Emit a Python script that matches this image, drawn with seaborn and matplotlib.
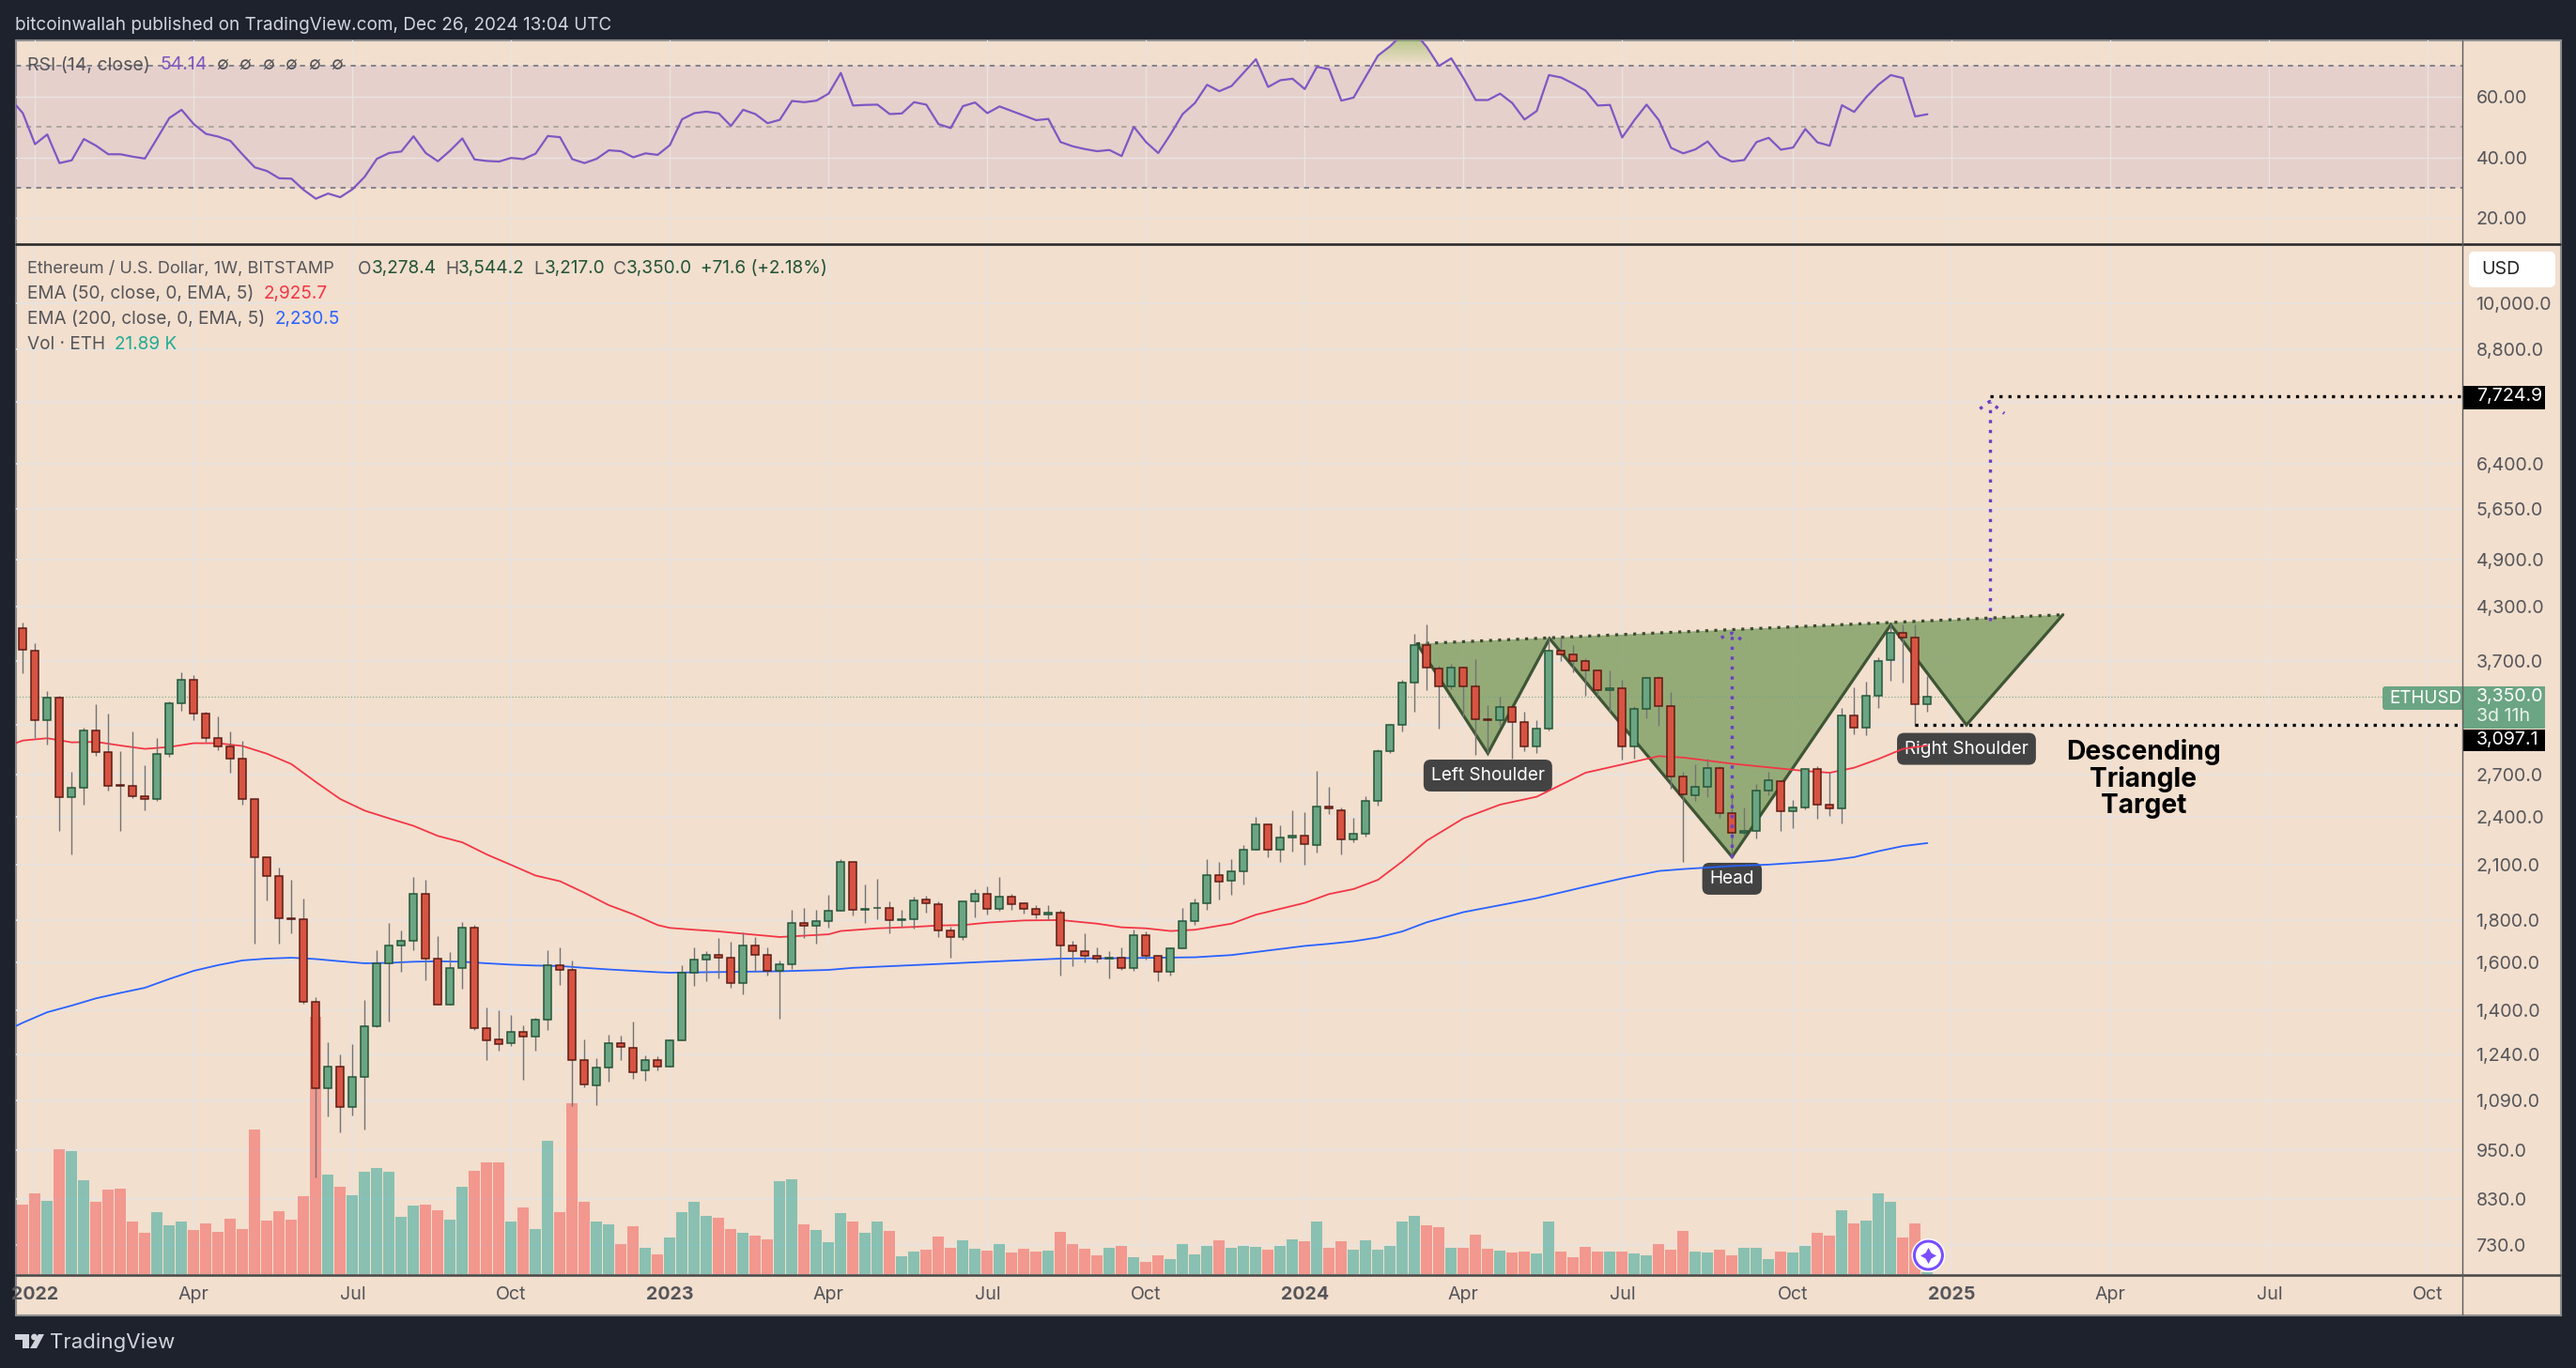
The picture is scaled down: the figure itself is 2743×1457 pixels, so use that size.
import numpy as np
import pandas as pd
import matplotlib
matplotlib.use("Agg")
import matplotlib.pyplot as plt
from matplotlib.patches import Rectangle, FancyBboxPatch, Circle, Polygon
from matplotlib.path import Path
import seaborn as sns

# ---------- data ----------
opens = [4049,3812,3142,3338,2537,2599,3047,2870,2622,2613,2543,2518,2855,3286,3510,3197,2985,2914,2818,2518,
 2142,2038,1809,1804,1436,1130,1198,1072,1166,1340,1598,1676,1698,1936,1617,1425,1578,1764,1335,1294,
 1278,1320,1304,1365,1589,1566,1219,1138,1194,1278,1262,1185,1219,1200,1288,1555,1613,1635,1622,1513,
 1680,1635,1562,1591,1785,1774,1794,1847,2114,1855,1862,1865,1801,1806,1907,1884,1751,1718,1895,1936,
 1857,1921,1886,1860,1828,1837,1680,1653,1632,1617,1620,1578,1729,1632,1558,1663,1794,1889,2042,2011,
 2061,2187,2347,2192,2263,2280,2218,2467,2446,2252,2287,2505,2877,3102,3482,3871,3626,3447,3636,3447,
 3150,3142,3253,3126,2920,3063,3812,3772,3698,3608,3410,3428,2920,3237,3526,3261,2681,2546,2606,2747,
 2422,2293,2310,2580,2646,2434,2465,2737,2479,2453,3178,3071,3355,3707,3998,3947,3278.4]
highs = [4117,3886,3405,3355,2718,3071,3282,3200,2880,3043,2771,2988,3308,3590,3555,3212,3174,3040,2966,2524,
 2144,2085,2014,1911,1453,1283,1240,1276,1441,1656,1787,1749,2030,2014,1723,1647,1790,1779,1412,1402,
 1383,1343,1371,1656,1669,1610,1292,1228,1309,1306,1358,1235,1232,1294,1589,1669,1652,1712,1696,1740,
 1718,1669,1608,1855,1862,1855,1931,2134,2116,1989,2019,1899,1851,1921,1929,1895,1770,1897,1960,1978,
 2030,1938,1890,1877,1877,1853,1698,1734,1670,1651,1670,1753,1747,1636,1670,1862,1911,2134,2118,2134,
 2218,2400,2352,2343,2441,2431,2729,2608,2460,2395,2540,2892,3110,3508,3993,4091,3655,3669,3641,3721,
 3274,3346,3265,3216,3138,3947,3947,3871,3725,3617,3608,3513,3265,3535,3544,3393,2718,2775,2818,2760,
 2570,2463,2626,2722,2653,2515,2750,2764,2715,3245,3441,3490,3740,4101,4095,4095,3544.2]
lows = [3576,2988,2930,2304,2164,2479,2840,2580,2304,2530,2446,2508,2833,3220,3142,2955,2885,2710,2485,1687,
 1901,1687,1736,1427,881,1044,998,1046,1007,1337,1359,1560,1657,1523,1425,1425,1490,1326,1220,1254,
 1268,1156,1254,1326,1503,1075,1132,1078,1149,1220,1159,1152,1185,1197,1288,1501,1519,1533,1494,1467,
 1560,1545,1370,1574,1714,1688,1762,1847,1825,1787,1806,1736,1770,1758,1839,1718,1623,1703,1816,1830,
 1849,1853,1835,1811,1802,1545,1583,1603,1599,1531,1568,1564,1612,1519,1545,1663,1776,1853,1906,1933,
 1988,2187,2145,2118,2178,2102,2170,2416,2164,2235,2270,2473,2862,3040,3212,3410,3063,3420,3174,2847,
 2862,3094,2818,2877,2862,3047,3702,3585,3363,3355,3216,2810,2822,3158,3086,2593,2115,2508,2534,2395,
 2147,2275,2258,2546,2308,2328,2447,2386,2407,2358,3016,3008,3249,3500,3486,3086,3217.0]
closes = [3821,3142,3338,2537,2599,3047,2873,2613,2618,2543,2518,2855,3286,3510,3197,2985,2914,2818,2518,2142,
 2038,1809,1804,1436,1130,1198,1072,1166,1340,1598,1676,1698,1936,1617,1425,1578,1764,1335,1290,1275,
 1320,1304,1365,1587,1566,1219,1141,1194,1278,1265,1181,1219,1200,1288,1556,1613,1635,1622,1513,1680,
 1635,1562,1591,1785,1774,1794,1847,2114,1855,1860,1865,1801,1806,1903,1889,1751,1718,1895,1936,1857,
 1923,1884,1860,1828,1837,1680,1653,1632,1617,1620,1578,1729,1632,1558,1663,1794,1889,2042,2006,2061,
 2192,2347,2192,2263,2275,2224,2467,2453,2252,2287,2505,2877,3102,3482,3871,3631,3447,3636,3447,3150,
 3142,3253,3126,2920,3063,3812,3772,3698,3608,3410,3428,2920,3237,3526,3261,2681,2553,2606,2747,2422,
 2293,2310,2580,2653,2434,2465,2737,2479,2453,3178,3071,3355,3697,3998,3947,3278,3350.0]
volume_k = [750,880,790,1350,1330,1015,780,920,930,575,445,675,525,575,475,545,455,605,485,1565,
 585,685,595,840,2785,1075,950,850,1105,1155,1105,625,740,750,695,595,950,1115,1215,1215,
 575,720,485,1450,675,1850,780,575,535,330,515,280,210,400,675,780,635,615,485,445,
 420,380,1005,1025,535,475,350,665,565,445,575,465,190,240,260,410,280,370,270,250,
 330,230,270,240,250,455,330,270,200,290,310,180,135,200,160,330,210,310,370,280,
 310,300,260,310,380,360,565,290,360,260,370,260,310,575,635,525,505,290,290,430,
 270,250,230,240,220,565,240,180,300,240,240,240,220,200,330,260,465,240,230,260,
 200,280,290,160,240,230,310,445,420,695,545,585,880,780,400,545,21.89]
week_index = list(range(157))

ema_weeks = [-1,0,2,4,6,8,10,12,14,16,18,20,22,24,26,28,30,32,34,36,38,40,42,44,46,48,50,52,53,55,57,59,62,66,67,70,73,75,77,79,82,85,88,90,92,94,96,99,101,103,105,107,109,111,113,115,118,121,124,128,131,134,136,140,143,146,148,150,152,154,156]
ema50 = [2930,2966,2985,2951,2955,2925,2898,2913,2944,2944,2921,2859,2778,2643,2521,2441,2389,2340,2275,2235,2161,2099,2038,2006,1943,1877,1830,1776,1762,1753,1745,1734,1718,1731,1747,1760,1767,1774,1776,1788,1799,1801,1783,1765,1760,1747,1753,1783,1828,1858,1889,1936,1963,2014,2120,2246,2389,2482,2537,2712,2775,2840,2829,2781,2753,2725,2712,2750,2818,2898,2925.7]
ema200_weeks = [-1,0,2,4,6,8,10,12,14,16,18,20,22,24,26,28,30,32,34,36,38,40,42,44,46,48,50,52,53,59,62,66,68,73,79,85,90,96,99,105,107,109,111,113,115,118,121,124,128,131,134,136,140,143,146,148,150,152,154,156]
ema200 = [1332,1354,1394,1420,1449,1471,1492,1529,1564,1589,1610,1618,1622,1616,1606,1597,1599,1604,1606,1604,1597,1591,1587,1585,1577,1570,1564,1558,1556,1560,1562,1568,1577,1589,1604,1618,1620,1624,1634,1676,1686,1698,1716,1745,1790,1841,1877,1914,1976,2022,2064,2075,2093,2101,2115,2126,2145,2181,2212,2230.5]
rsi_weeks = list(range(-1,157))
rsi = [59.1,54.5,44.3,47.5,38.1,39.0,46.0,43.8,41,41,40.2,39.6,46.2,52.9,55.6,50.9,47.7,46.8,45.4,40.9,
 36.7,35.5,33.1,33,29.3,26.4,28.1,26.9,29.5,33.6,39.5,41.4,41.9,46.9,41.4,38.7,42.2,46.2,39.3,38.8,
 38.6,39.8,39.4,41.2,47,46.6,39.4,38.1,39.5,42.3,42,40,41.3,40.8,44,52.5,54.5,55,54.4,50.3,
 55.6,54.2,51.2,52.3,58.5,58.1,58.6,60.9,67.7,57,57.2,57.3,54.2,54.4,58.1,57.3,50.9,49.6,56.8,58,
 54.5,56.7,55.2,53.7,52.2,52.6,45,43.6,42.7,42,42.4,40.4,50,45,41.4,47.5,54.2,57.8,63.8,61.7,
 63.4,67.8,72.2,63.1,65.3,65.8,62.4,69.7,68.9,58.6,59.6,66.5,73.4,76.5,80.4,81,76.2,70,72.5,66,
 58.8,58.8,60.9,57.8,52.4,55.2,67,66.2,64.2,61.9,57,57.2,46.5,52.2,57.3,52.2,43.1,41.3,42.6,45.2,
 40.4,38.6,39.1,45,46.4,42.5,43.2,49.3,44.9,43.8,57.1,54.9,59.8,63.9,67,66,53.4,54.14]

price_ticks = [10000,8800,7600,6400,5650,4900,4300,3700,3100,2700,2400,2100,1800,1600,1400,1240,1090,950,830,730]
price_labels = ["10,000.0","8,800.0","","6,400.0","5,650.0","4,900.0","4,300.0","3,700.0","","2,700.0","2,400.0","2,100.0","1,800.0","1,600.0","1,400.0","1,240.0","1,090.0","950.0","830.0","730.0"]
rsi_ticks = [60,40,20]
rsi_labels = ["60.00","40.00","20.00"]
time_ticks = [1,14,27,40,53,66,79,92,105,118,131,145,158,171,184,197]
time_labels = ["2022","Apr","Jul","Oct","2023","Apr","Jul","Oct","2024","Apr","Jul","Oct","2025","Apr","Jul","Oct"]

pattern_weeks = [114.2,120,125.05,140,153,159.2,167.1]
pattern_prices = [3881,2862,3937,2147,4091,3097.1,4207]
target_high = 7724.9
target_low = 3097.1
last_close = 3350.0
arrow1_weeks = [139.1,140,141.2]; arrow1_prices = [3947,3998,3886]
arrow2_weeks = [160.3,161.1,162.3]; arrow2_prices = [7455,7610,7360]
shaft1 = ([140,140],[2147,3998])
shaft2 = ([161.1,161.1],[4136,7610])

# ---------- style ----------
sns.set_theme(style="white", rc={"axes.facecolor":"none"})
plt.rcParams['font.family'] = ['Inter','DejaVu Sans']

W,H = 2743,1457
BG = "#F2DFCE"; DARK = "#1E222D"
GRID = "#E9E3DF"; TXT = "#55555A"
UP,DN = "#6BA583","#D75442"
UPE,DNE = "#225437","#5B1A13"
px = 72/100

fig = plt.figure(figsize=(W/100,H/100),dpi=100,facecolor=DARK)
def pane(l,t,r,b,z):
    a = fig.add_axes([l/W,1-b/H,(r-l)/W,(b-t)/H],zorder=z)
    a.patch.set_alpha(0)
    for s in a.spines.values(): s.set_visible(False)
    return a

bg = fig.add_axes([0,0,1,1],zorder=0); bg.set_xlim(0,W); bg.set_ylim(H,0); bg.axis("off")
bg.add_patch(Rectangle((16.5,43),2710,1357.5,fc=BG,ec="#8E8E8E",lw=1.5))

XMIN,XMAX = -0.562,199.78
PMIN,PMAX = 673.3,11783

# RSI pane
ar = pane(17,43.3,2621.5,259,1)
ar.set_xlim(XMIN,XMAX); ar.set_ylim(11.8,78.3)
ar.axhspan(30,70,color="#7E57C2",alpha=.11,lw=0,zorder=.5)
for lvl,c in ((70,"#787B86"),(50,"#A8A29C"),(30,"#787B86")):
    ar.axhline(lvl,color=c,lw=1.5*px*1.2,ls=(0,(3,3)),zorder=1)
sns.lineplot(x=rsi_weeks,y=rsi,ax=ar,color="#7E57C2",lw=2*px*1.1,estimator=None,zorder=3)
rx = np.array(rsi_weeks,float); ry = np.array(rsi,float)
poly = ar.fill_between(rx,70,ry,where=ry>70,interpolate=True,facecolor="none",lw=0)
grad = np.zeros((64,2,4)); grad[...,:3] = matplotlib.colors.to_rgb("#6FA83A")
grad[...,3] = np.linspace(.42,0,64)[:,None]
im = ar.imshow(grad,extent=[XMIN,XMAX,70,78.3],origin="upper",aspect="auto",zorder=2)
im.set_clip_path(Path.make_compound_path(*poly.get_paths()),transform=ar.transData)
ar.set_xlim(XMIN,XMAX); ar.set_ylim(11.8,78.3)
ar.yaxis.tick_right(); ar.set_yticks(rsi_ticks); ar.set_yticklabels(rsi_labels,color=TXT,fontsize=14.1)
ar.set_xticks(time_ticks); ar.set_xticklabels([])
ar.tick_params(length=0,pad=15*px)
ar.grid(True,color=GRID,lw=1.4*px,zorder=0); ar.set_axisbelow(True)

# price background pane: grid + axis labels
ab = pane(17,260,2621.5,1357,1)
ab.set_yscale("log"); ab.set_xlim(XMIN,XMAX); ab.set_ylim(PMIN,PMAX)
ab.yaxis.set_minor_locator(matplotlib.ticker.NullLocator())
ab.yaxis.tick_right(); ab.set_yticks(price_ticks); ab.set_yticklabels(price_labels,color=TXT,fontsize=14.1)
ab.set_xticks(time_ticks); ab.set_xticklabels(time_labels,color=TXT,fontsize=14.1)
for lab,txt in zip(ab.get_xticklabels(),time_labels):
    if txt.isdigit(): lab.set_fontweight("bold")
ab.tick_params(axis="y",length=0,pad=15*px)
ab.tick_params(axis="x",length=0,pad=13*px)
ab.grid(True,color=GRID,lw=1.8*px)
ab.set_axisbelow(True)

# volume
av = pane(17,260,2621.5,1357,2)
frame = pd.DataFrame({"week":week_index,"vol":volume_k,
    "dir":["up" if c>=o else "down" for o,c in zip(opens,closes)]})
sns.barplot(data=frame,x="week",y="vol",hue="dir",palette={"up":"#24A396","down":"#F25350"},
    native_scale=True,dodge=False,width=.92,alpha=.5,saturation=1,legend=False,ax=av,lw=0)
av.set_xlim(XMIN,XMAX); av.set_ylim(0,11167); av.axis("off")

# candles
ap = pane(17,260,2621.5,1357,3)
ap.set_yscale("log")
ap.fill(pattern_weeks+[pattern_weeks[0]],pattern_prices+[pattern_prices[0]],fc="#6E9652",alpha=.70,lw=0,zorder=1)
ap.plot(pattern_weeks,pattern_prices,color="#3E5535",lw=3.2*px,zorder=1.2,solid_joinstyle="miter")
ap.plot([pattern_weeks[0],pattern_weeks[-1]],[pattern_prices[0],pattern_prices[-1]],color="#3A4A33",lw=3.2*px,ls=(0,(1,2)),zorder=1.2)
ap.axhline(last_close,color=UP,lw=1.1*px,ls=(0,(1,2)),zorder=1)
sns.lineplot(x=ema_weeks,y=ema50,ax=ap,color="#F23645",lw=1.8*px,estimator=None,zorder=1.8)
sns.lineplot(x=ema200_weeks,y=ema200,ax=ap,color="#2962FF",lw=1.8*px,estimator=None,zorder=1.8)
o,h,l,c = map(np.array,(opens,highs,lows,closes))
up = c>=o
wk = np.array(week_index)
ap.vlines(wk,l,h,color="#737375",lw=1.4*px,zorder=2)
ap.bar(wk,np.maximum(np.abs(c-o),1),bottom=np.minimum(o,c),width=.63,
       color=[UP if u else DN for u in up],edgecolor=[UPE if u else DNE for u in up],lw=1.5*px,zorder=2.2)
dot=(0,(1,1.9))
ap.plot([wk[155],XMAX],[target_low]*2,color="black",lw=3.3*px,ls=dot,zorder=3)
ap.plot([161.1,XMAX],[target_high]*2,color="black",lw=3.3*px,ls=dot,zorder=3)
for wx,wy in (shaft1,shaft2,(arrow1_weeks,arrow1_prices),(arrow2_weeks,arrow2_prices)):
    ap.plot(wx,wy,color="#6A3FC4",lw=3.4*px,ls=(0,(1,2.1)),zorder=3.2)
box = dict(boxstyle="round,pad=0.42,rounding_size=0.4",fc="#434343",ec="none")
for wx,wy,s in ((120,2691,"Left Shoulder"),(140,2020,"Head"),(159.2,2898,"Right Shoulder")):
    ap.text(wx,wy,s,color="white",fontsize=13.7,ha="center",va="center",bbox=box,zorder=1.6)
ap.text(173.7,2668,"Descending\nTriangle\nTarget",color="black",fontsize=20.3,fontweight="bold",ha="center",va="center",linespacing=1.05,zorder=3)
ap.set_xlim(XMIN,XMAX); ap.set_ylim(PMIN,PMAX)
ap.set_xticks([]); ap.set_yticks([]); ap.minorticks_off()
ap.yaxis.set_minor_locator(matplotlib.ticker.NullLocator())

# overlay chrome
ov = fig.add_axes([0,0,1,1],zorder=10); ov.set_xlim(0,W); ov.set_ylim(H,0); ov.axis("off"); ov.patch.set_alpha(0)
ov.plot([17,2726],[259.5,259.5],color="#2A2A2A",lw=2.6*px)
ov.plot([17,2726],[1357.5,1357.5],color="#4A4A4A",lw=2.6*px)
ov.plot([2621.5,2621.5],[43,1400],color="#5C5C5C",lw=1.4*px)
def T(x,y,s,color=TXT,size=14.0,**k):
    k.setdefault("va","center"); k.setdefault("ha","left")
    return ov.text(x,y,s,color=color,fontsize=size,**k)
T(16.5,26.5,"bitcoinwallah published on TradingView.com, Dec 26, 2024 13:04 UTC",color="#D1D4DC",size=13.65)
T(29,69.5,"RSI (14, close)"); T(170,69.5,"54.14",color="#7E57C2")
for xx in (237,261,286,310,335,359):
    T(xx,69.5,"∅",ha="center",size=13.5)
T(29,286.5,"Ethereum / U.S. Dollar, 1W, BITSTAMP",size=13.05)
G="#225437"
for xx,s,cc in ((381,"O",TXT),(396,"3,278.4",G),(474,"H",TXT),(488,"3,544.2",G),(568,"L",TXT),(580,"3,217.0",G),(653,"C",TXT),(667,"3,350.0",G),(746,"+71.6 (+2.18%)",G)):
    T(xx,286.5,s,color=cc,size=13.7)
T(29,313,"EMA (50, close, 0, EMA, 5)",size=13.7); T(281,313,"2,925.7",color="#F23645",size=13.7)
T(29,340,"EMA (200, close, 0, EMA, 5)",size=13.7); T(293,340,"2,230.5",color="#2962FF",size=13.7)
T(29,367,"Vol · ETH",size=13.7); T(122,367,"21.89 K",color="#22AB94",size=13.7)
# USD button
ov.add_patch(FancyBboxPatch((2631,270),88,34,boxstyle="round,pad=2,rounding_size=6",fc="white",ec="none"))
T(2642,287,"USD",color="#222222",size=14.1)
# price tags
ov.add_patch(FancyBboxPatch((2537,731),88,25,boxstyle="round,pad=0,rounding_size=3",fc=UP,ec="none"))
T(2544,744,"ETHUSD",color="white",size=13.6)
ov.add_patch(Rectangle((2622,731),88,45,fc=UP,ec="none"))
T(2637,742,"3,350.0",color="white",size=14.1); T(2637,763,"3d 11h",color="white",size=14.1,alpha=.85)
ov.add_patch(Rectangle((2622,777),88,23,fc="black",ec="none")); T(2637,787.5,"3,097.1",color="white",size=14.1)
ov.add_patch(Rectangle((2622,411),88,24.5,fc="black",ec="none")); T(2637,422,"7,724.9",color="white",size=14.1)
# assistant icon
ov.add_patch(Circle((2053.4,1337),18,fc="white",ec="none"))
ov.add_patch(Circle((2053.4,1337),15,fc="white",ec="#7A4DFF",lw=3*px))
ov.scatter([2053.4],[1337],marker=(4,1,0),s=150,color="#7A4DFF",lw=0)
# footer logo
ov.add_patch(Polygon([(16,1421),(31,1421),(31,1436),(24,1436),(24,1427),(16,1427)],fc="#D1D4DC",ec="none"))
ov.add_patch(Circle((36.5,1424),3.4,fc="#D1D4DC",ec="none"))
ov.add_patch(Polygon([(41,1421),(47,1421),(39,1436),(32,1436)],fc="#D1D4DC",ec="none"))
T(53,1430,"TradingView",color="#D1D4DC",size=16)

fig.savefig("out.png",dpi=100,facecolor=DARK)
